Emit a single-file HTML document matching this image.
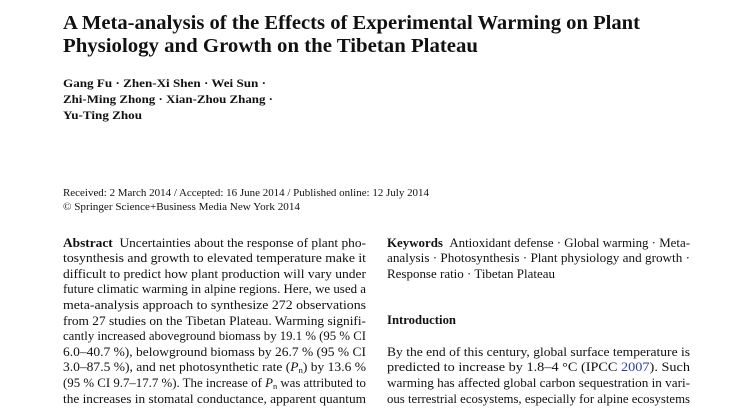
<!DOCTYPE html>
<html><head><meta charset="utf-8"><style>
body{margin:0;width:741px;height:410px;background:#fff;overflow:hidden;position:relative;font-family:"Liberation Serif",serif;color:#111}
.l{position:absolute;white-space:nowrap;line-height:1;transform-origin:0 0}
.t{font-size:20px;font-weight:bold}
.a{font-size:11.5px;font-weight:bold}
.r{font-size:10px}
.b{font-size:12.3px}
a{color:#2a3fb0;text-decoration:none}
sub{font-size:8px;vertical-align:-2px;line-height:0}
</style></head><body>
<div>
<div class="l t" data-w="577" data-b="30" style="left:63px">A Meta-analysis of the Effects of Experimental Warming on Plant</div>
<div class="l t" data-w="415" data-b="53" style="left:63px">Physiology and Growth on the Tibetan Plateau</div>
</div>
<div>
<div class="l a" data-w="203" data-b="89" style="left:63px">Gang Fu · Zhen-Xi Shen · Wei Sun ·</div>
<div class="l a" data-w="210" data-b="105" style="left:63px">Zhi-Ming Zhong · Xian-Zhou Zhang ·</div>
<div class="l a" data-w="79" data-b="121" style="left:63px">Yu-Ting Zhou</div>
</div>
<div>
<div class="l r" data-w="366" data-b="197" style="left:63px">Received: 2 March 2014 / Accepted: 16 June 2014 / Published online: 12 July 2014</div>
<div class="l r" data-w="237" data-b="211" style="left:63px">© Springer Science+Business Media New York 2014</div>
</div>
<div>
<div class="l b" data-w="303" data-b="247" style="left:63px"><b>Abstract</b>&nbsp;&nbsp;Uncertainties about the response of plant pho-</div>
<div class="l b" data-w="303" data-b="262.6" style="left:63px">tosynthesis and growth to elevated temperature make it</div>
<div class="l b" data-w="303" data-b="278.2" style="left:63px">difficult to predict how plant production will vary under</div>
<div class="l b" data-w="303" data-b="293.8" style="left:63px">future climatic warming in alpine regions. Here, we used a</div>
<div class="l b" data-w="303" data-b="309.4" style="left:63px">meta-analysis approach to synthesize 272 observations</div>
<div class="l b" data-w="303" data-b="325" style="left:63px">from 27 studies on the Tibetan Plateau. Warming signifi-</div>
<div class="l b" data-w="303" data-b="340.6" style="left:63px">cantly increased aboveground biomass by 19.1 % (95 % CI</div>
<div class="l b" data-w="303" data-b="356.2" style="left:63px">6.0–40.7 %), belowground biomass by 26.7 % (95 % CI</div>
<div class="l b" data-w="303" data-b="371.8" style="left:63px">3.0–87.5 %), and net photosynthetic rate (<i>P</i><sub>n</sub>) by 13.6 %</div>
<div class="l b" data-w="303" data-b="387.4" style="left:63px">(95 % CI 9.7–17.7 %). The increase of <i>P</i><sub>n</sub> was attributed to</div>
<div class="l b" data-w="303" data-b="403" style="left:63px">the increases in stomatal conductance, apparent quantum</div>
</div>
<div>
<div class="l b" data-w="303" data-b="247" style="left:387px"><b>Keywords</b>&nbsp;&nbsp;Antioxidant defense · Global warming · Meta-</div>
<div class="l b" data-w="303" data-b="262.6" style="left:387px">analysis · Photosynthesis · Plant physiology and growth ·</div>
<div class="l b" data-w="168" data-b="278.2" style="left:387px">Response ratio · Tibetan Plateau</div>
</div>
<div class="l b" data-w="69" data-b="324" style="left:387px;font-weight:bold">Introduction</div>
<div>
<div class="l b" data-w="303" data-b="356.2" style="left:387px">By the end of this century, global surface temperature is</div>
<div class="l b" data-w="303" data-b="371.8" style="left:387px">predicted to increase by 1.8–4 °C (IPCC <a>2007</a>). Such</div>
<div class="l b" data-w="303" data-b="387.4" style="left:387px">warming has affected global carbon sequestration in vari-</div>
<div class="l b" data-w="303" data-b="403" style="left:387px">ous terrestrial ecosystems, especially for alpine ecosystems</div>
</div>
<script>
document.querySelectorAll('.l').forEach(function(e){
  var fs=parseFloat(getComputedStyle(e).fontSize);
  e.style.top=(parseFloat(e.dataset.b)-0.84*fs)+'px';
  var w=e.getBoundingClientRect().width;
  var t=parseFloat(e.dataset.w);
  if(w>0) e.style.transform='scaleX('+(t/w)+')';
});
</script>
</body></html>
